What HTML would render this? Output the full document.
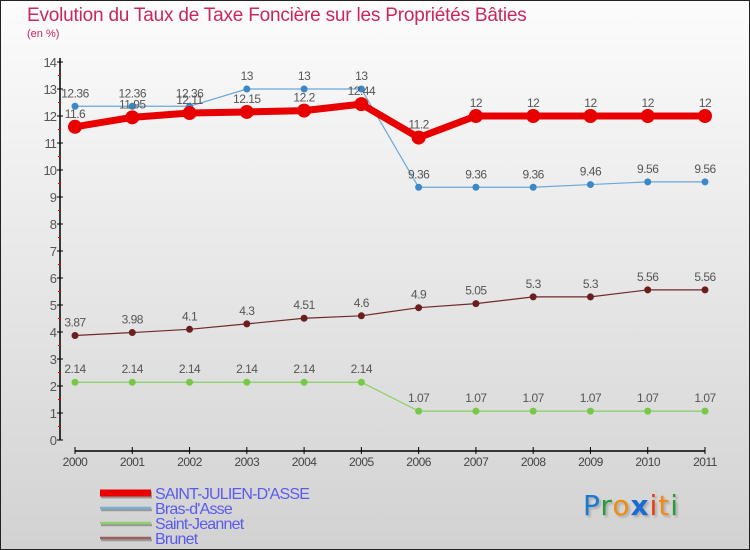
<!DOCTYPE html>
<html><head><meta charset="utf-8"><style>
body{margin:0}
#c{width:750px;height:550px;position:relative;background:linear-gradient(#fcfcfc,#d2d2d2);box-sizing:border-box;border:1px solid #222;font-family:"Liberation Sans",sans-serif;overflow:hidden}
.t{position:absolute;color:#c8285a}
</style></head><body>
<div id="c">
<div class="t" style="left:26px;top:4px;font-size:19px;letter-spacing:-0.2px">Evolution du Taux de Taxe Foncière sur les Propriétés Bâties</div>
<div class="t" style="left:26px;top:27px;font-size:11px">(en %)</div>
<svg id="s" width="750" height="550" style="position:absolute;left:-1px;top:-1px"></svg>
<div style="position:absolute;left:582px;top:488px;font-size:28px;font-family:'DejaVu Sans',sans-serif;letter-spacing:1px;text-shadow:2px 2px 2px #aaa"><span style="color:#1a7ad0">P</span><span style="color:#2a9a3a">r</span><span style="color:#f08a10">o</span><span style="color:#1a6ad0;font-weight:bold">x</span><span style="color:#e83a10">i</span><span style="color:#f08a10">t</span><span style="color:#2a9a3a">i</span></div>
</div>
<script>
const years=[2000,2001,2002,2003,2004,2005,2006,2007,2008,2009,2010,2011];
const saint=[11.6,11.95,12.11,12.15,12.2,12.44,11.2,12,12,12,12,12];
const bras=[12.36,12.36,12.36,13,13,13,9.36,9.36,9.36,9.46,9.56,9.56];
const jean=[2.14,2.14,2.14,2.14,2.14,2.14,1.07,1.07,1.07,1.07,1.07,1.07];
const brun=[3.87,3.98,4.1,4.3,4.51,4.6,4.9,5.05,5.3,5.3,5.56,5.56];
const yTicks=[0,1,2,3,4,5,6,7,8,9,10,11,12,13,14];
const names=['SAINT-JULIEN-D\'ASSE','Bras-d\'Asse','Saint-Jeannet','Brunet'];
const s=document.getElementById('s');const NS='http://www.w3.org/2000/svg';
const X=i=>75+i*(630/11), Y=v=>440-v*27;
function mk(t,a,p){const e=document.createElementNS(NS,t);for(const k in a)e.setAttribute(k,a[k]);(p||s).appendChild(e);return e;}
let ax=mk('line',{x1:60,y1:Y(14)-4,x2:60,y2:Y(0),stroke:'#000','stroke-width':1.5});

let xa=mk('line',{x1:X(0),y1:451,x2:X(11),y2:451,stroke:'#000','stroke-width':1.5});

yTicks.forEach(v=>{mk('line',{x1:57,x2:63,y1:Y(v),y2:Y(v),stroke:'#000'});
 if(v<14)mk('line',{x1:58,x2:61,y1:Y(v+0.5),y2:Y(v+0.5),stroke:'#e00'});
 const t=mk('text',{x:56,y:Y(v)+5,'text-anchor':'end','font-size':13,fill:'#555','letter-spacing':'-1'});t.textContent=v;
 });
years.forEach((y,i)=>{mk('line',{x1:X(i),x2:X(i),y1:447,y2:454,stroke:'#000'});
 const t=mk('text',{x:X(i),y:466,'text-anchor':'middle','font-size':12,fill:'#444','letter-spacing':'-0.5'});t.textContent=y;
 });
function series(d,col,w,r,name,dot,off){
 const g=mk('g',{});
 mk('polyline',{points:d.map((v,i)=>X(i)+','+Y(v)).join(' '),fill:'none',stroke:col,'stroke-width':w,'stroke-linejoin':'round'},g);
 d.forEach((v,i)=>{mk('circle',{cx:X(i),cy:Y(v),r:r,fill:dot},g);
  const t=mk('text',{x:X(i),y:Y(v)+off,'text-anchor':'middle','font-size':12,fill:'#555','letter-spacing':'-0.5'},g);t.textContent=v;});
}
series(brun,'#6e2a2a',1.2,3.5,'series-brunet','#6a1e1e',-9);
series(jean,'#88d060',1.2,3.5,'series-saint-jeannet','#78c848',-9);
series(bras,'#6aa8d8',1.2,3.5,'series-bras-dasse','#3a88c8',-9);
series(saint,'#e80000',7,7,'series-saint-julien-dasse','#e80000',-9);
const lc=['#e80000','#7aaed0','#90d070','#9a6060'],lw=[7,2.5,2.5,2.5];
names.forEach((n,i)=>{const y=493+i*15;
 const g=mk('g',{});
 mk('line',{x1:101,x2:152,y1:y+2,y2:y+2,stroke:'#999','stroke-width':lw[i]},g);
 mk('line',{x1:100,x2:151,y1:y,y2:y,stroke:lc[i],'stroke-width':lw[i]},g);
 const t=mk('text',{x:155,y:y+6,'font-size':16,fill:'#5a5af0','letter-spacing':'-0.8'},g);t.textContent=n;});
</script>
</body></html>
